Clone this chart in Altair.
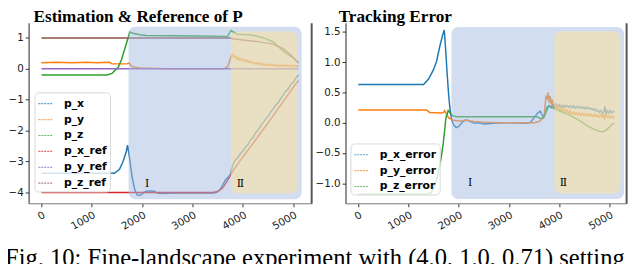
import altair as alt
import pandas as pd

# ---------------- Left panel: Estimation & Reference of P ----------------
px_t = [0, 1450, 1550, 1620, 1680, 1710, 1750, 1800, 1850, 1900, 1950, 2000, 2050, 2100, 2200, 2250, 2300,
        2400, 2600, 3000, 3400, 3470, 3550, 3600, 3650, 3700, 3750, 3800, 3850, 3900, 3950, 4000, 4050, 4100,
        4150, 4200, 4250, 4300, 4350, 4400, 4450, 4500, 4550, 4600, 4650, 4700, 4750, 4800, 4850, 4900, 4950,
        5000, 5050, 5100]
px_v = [-3.38, -3.38, -3.25, -3.0, -2.7, -2.47, -2.9, -3.5, -3.9, -4.08, -4.1, -4.05, -3.98, -3.95, -3.95, -3.97,
        -4.02, -4.03, -4.02, -4.02, -4.02, -4.0, -3.9, -3.75, -3.6, -3.52, -3.42, -3.1, -2.95, -2.87, -2.74,
        -2.66, -2.53, -2.45, -2.3, -2.22, -2.08, -1.98, -1.85, -1.74, -1.62, -1.53, -1.4, -1.3, -1.18, -1.09,
        -0.96, -0.85, -0.72, -0.65, -0.5, -0.44, -0.3, -0.2]

py_t = [0, 300, 600, 900, 1100, 1350, 1400, 1700, 1740, 1770, 1800, 1850, 1950, 2100, 2300, 2500, 3600, 3650,
        3700, 3730, 3760, 3790, 3820, 3850, 3880, 3910, 3940, 3970, 4000, 4030, 4060, 4090, 4120, 4150, 4180,
        4210, 4240, 4270, 4300, 4330, 4360, 4390, 4420, 4450, 4480, 4510, 4540, 4570, 4600, 4630, 4660, 4690,
        4720, 4750, 4780, 4810, 4840, 4870, 4900, 4930, 4960, 4990, 5020, 5050, 5080, 5100]
py_v = [0.2, 0.21, 0.2, 0.21, 0.2, 0.21, 0.16, 0.16, 0.19, 0.12, 0.07, 0.05, 0.03, 0.02, 0.01, 0.0, 0.0, 0.02,
        0.08, 0.22, 0.38, 0.47, 0.36, 0.42, 0.31, 0.37, 0.28, 0.34, 0.26, 0.31, 0.22, 0.27, 0.2, 0.25, 0.18,
        0.22, 0.16, 0.2, 0.14, 0.19, 0.13, 0.17, 0.12, 0.16, 0.11, 0.15, 0.1, 0.14, 0.1, 0.13, 0.09, 0.13,
        0.08, 0.12, 0.09, 0.12, 0.08, 0.11, 0.09, 0.12, 0.08, 0.11, 0.08, 0.11, 0.08, 0.09]

pz_t = [0, 1300, 1400, 1460, 1525, 1590, 1655, 1720, 1753, 1818, 1948, 2078, 2600, 3117, 3636, 3690, 3760,
        3890, 4156, 4416, 4610, 4805, 5000, 5097]
pz_v = [-0.2, -0.2, -0.15, -0.05, 0.05, 0.3, 0.65, 1.0, 1.19, 1.15, 1.1, 1.08, 1.07, 1.06, 1.05, 1.03, 1.24,
        1.12, 1.1, 1.0, 0.86, 0.56, 0.35, 0.2]

pxr_t = [0, 3400, 3500, 3600, 3700, 3800, 4000, 4500, 5000, 5100]
pxr_v = [-4.0, -4.0, -3.97, -3.85, -3.6, -3.3, -2.85, -1.75, -0.6, -0.38]

pyr_t = [0, 5100]
pyr_v = [0.0, 0.0]

pzr_t = [0, 3750, 3800, 4000, 4300, 4600, 4800, 4950, 5100]
pzr_v = [1.0, 1.0, 0.97, 0.93, 0.88, 0.8, 0.65, 0.45, 0.2]

left_series = ["p_x", "p_y", "p_z", "p_x_ref", "p_y_ref", "p_z_ref"]
left_colors = ["#1f77b4", "#ff7f0e", "#2ca02c", "#d62728", "#9467bd", "#8c564b"]

# shaded regions (data coords): x start, x end, y top, y bottom
left_blue = [1730, 5165, 1.36, -4.22]
left_tan = [3760, 5090, 1.21, -4.03]
left_marks_t = [2100, 3950]
left_marks_v = [-3.72, -3.72]

# ---------------- Right panel: Tracking Error ----------------
ex_t = [0, 1300, 1400, 1500, 1560, 1620, 1680, 1712, 1740, 1770, 1800, 1830, 1860, 1900, 1950, 2000, 2060,
        2120, 2180, 2250, 2320, 2400, 2500, 2700, 3000, 3300, 3420, 3500, 3560, 3620, 3660, 3690, 3720, 3760,
        3800, 3841, 3870, 3900, 3930, 3960, 3990, 4020, 4050, 4080, 4110, 4140, 4170, 4200, 4230, 4260, 4290,
        4320, 4350, 4380, 4410, 4440, 4470, 4500, 4530, 4560, 4590, 4620, 4650, 4680, 4710, 4740, 4770, 4800,
        4830, 4860, 4890, 4910, 4930, 4950, 4980, 5010, 5040, 5070, 5100]
ex_v = [0.63, 0.63, 0.72, 0.88, 1.02, 1.25, 1.45, 1.53, 1.2, 0.8, 0.45, 0.2, 0.05, -0.04, -0.08, -0.06, 0.0,
        0.04, 0.04, 0.01, -0.01, 0.0, -0.02, -0.01, 0.0, -0.01, 0.0, 0.08, 0.15, 0.19, 0.13, 0.09, 0.15, 0.26,
        0.28, 0.25, 0.3, 0.26, 0.31, 0.27, 0.3, 0.26, 0.29, 0.25, 0.29, 0.26, 0.28, 0.25, 0.28, 0.25, 0.28,
        0.24, 0.27, 0.24, 0.27, 0.24, 0.26, 0.23, 0.26, 0.23, 0.25, 0.22, 0.24, 0.21, 0.23, 0.19, 0.21, 0.17,
        0.2, 0.15, 0.19, 0.27, 0.12, 0.2, 0.16, 0.2, 0.16, 0.19, 0.17]

ey_t = [0, 1360, 1420, 1660, 1700, 1720, 1750, 1800, 1900, 2000, 2150, 2300, 2500, 2800, 3500, 3600, 3680,
        3700, 3720, 3740, 3760, 3780, 3800, 3820, 3840, 3860, 3890, 3920, 3950, 3980, 4010, 4040, 4070, 4100,
        4130, 4160, 4190, 4220, 4250, 4280, 4310, 4340, 4370, 4400, 4430, 4460, 4490, 4520, 4550, 4580, 4610,
        4640, 4670, 4700, 4730, 4760, 4790, 4820, 4850, 4880, 4900, 4920, 4950, 4980, 5010, 5040, 5070, 5100]
ey_v = [0.21, 0.21, 0.17, 0.16, 0.17, 0.2, 0.15, 0.08, 0.04, 0.03, 0.04, 0.02, 0.01, 0.0, 0.0, 0.02, 0.08,
        0.1, 0.3, 0.45, 0.38, 0.5, 0.33, 0.44, 0.3, 0.38, 0.25, 0.3, 0.22, 0.27, 0.2, 0.25, 0.18, 0.23,
        0.17, 0.21, 0.15, 0.2, 0.14, 0.18, 0.13, 0.17, 0.13, 0.16, 0.12, 0.16, 0.12, 0.15, 0.11, 0.15, 0.11,
        0.14, 0.1, 0.14, 0.1, 0.13, 0.09, 0.13, 0.09, 0.14, 0.05, 0.13, 0.09, 0.12, 0.08, 0.11, 0.08, 0.1]

ez_t = [0, 1380, 1450, 1500, 1550, 1600, 1650, 1690, 1720, 1745, 1790, 1830, 1870, 1950, 2200, 2600, 3000,
        3400, 3560, 3620, 3680, 3740, 3795, 3850, 3900, 4000, 4100, 4200, 4300, 4400, 4500, 4600, 4700, 4800,
        4850, 4900, 4950, 5000, 5050, 5100]
ez_v = [-1.18, -1.18, -1.15, -1.08, -0.97, -0.8, -0.58, -0.35, -0.12, 0.08, 0.2, 0.16, 0.12, 0.1, 0.1, 0.1,
        0.1, 0.1, 0.1, 0.07, 0.08, 0.18, 0.28, 0.25, 0.24, 0.2, 0.16, 0.13, 0.08, 0.04, -0.02, -0.07, -0.11,
        -0.14, -0.15, -0.14, -0.11, -0.07, -0.03, 0.0]

right_series = ["p_x_error", "p_y_error", "p_z_error"]
right_colors = ["#1f77b4", "#ff7f0e", "#2ca02c"]

right_blue = [1855, 5290, 1.58, -1.26]
right_tan = [3906, 5215, 1.51, -1.17]
right_marks_t = [2227, 4082]
right_marks_v = [-1.0, -1.0]

CAPTION = "Fig. 10:  Fine-landscape experiment with (4.0, 1.0, 0.71) setting"


def frame(names, ts_list, vs_list):
    parts = []
    for i, (n, ts, vs) in enumerate(zip(names, ts_list, vs_list)):
        parts.append(pd.DataFrame({"t": ts, "v": vs, "series": n, "k": i}))
    return pd.concat(parts, ignore_index=True)


def panel(df, names, colors, blue, tan, mt, mv, xdom, ydom, yvals, yfmt, w, h, title, tdx, lx, ly):
    xs = alt.Scale(domain=xdom, nice=False, zero=False)
    ys = alt.Scale(domain=ydom, nice=False, zero=False)
    xaxis = alt.Axis(values=[0, 1000, 2000, 3000, 4000, 5000], format="d", labelAngle=-30,
                     labelAlign="right", labelBaseline="top", title=None, grid=False, domainColor="#777",
                     tickColor="#333", tickSize=3.5, labelFont="DejaVu Sans", labelFontSize=10.5,
                     labelColor="#222", labelPadding=3, labelOverlap=False)
    yaxis = alt.Axis(values=yvals, format=yfmt, title=None, grid=False, domainColor="#222", tickColor="#333",
                     tickSize=3.5, labelFont="DejaVu Sans", labelFontSize=10.5, labelColor="#222",
                     labelPadding=2)
    X = alt.X("t:Q", scale=xs, axis=xaxis)
    lines = alt.Chart(df).mark_line(strokeWidth=1.5).encode(
        x=X,
        y=alt.Y("v:Q", scale=ys, axis=yaxis),
        color=alt.Color("series:N", scale=alt.Scale(domain=names, range=colors), sort=names,
                        legend=alt.Legend(orient="none", legendX=lx, legendY=ly, title=None,
                                          symbolType="stroke", symbolSize=225, symbolStrokeWidth=1.2,
                                          symbolOpacity=0.7, symbolDash=[2, 1],
                                          labelFont="DejaVu Sans", labelFontWeight="bold",
                                          labelFontSize=11, labelColor="black", labelOffset=10,
                                          rowPadding=2.2, padding=3,
                                          fillColor="rgba(255,255,255,0.8)", strokeColor="#d8d8d8",
                                          cornerRadius=4)),
        order="k:O",
        detail="series:N",
    )
    bdf = pd.DataFrame({"t": [blue[0]], "t2": [blue[1]], "v": [blue[2]], "v2": [blue[3]]})
    tdf = pd.DataFrame({"t": [tan[0]], "t2": [tan[1]], "v": [tan[2]], "v2": [tan[3]]})
    brect = alt.Chart(bdf).mark_rect(cornerRadius=7, color="#A5BBE1", opacity=0.5).encode(
        x=X, x2="t2:Q",
        y=alt.Y("v:Q", scale=ys, axis=None), y2="v2:Q")
    trect = alt.Chart(tdf).mark_rect(cornerRadius=7, color="#FFE398", opacity=0.5).encode(
        x=X, x2="t2:Q",
        y=alt.Y("v:Q", scale=ys, axis=None), y2="v2:Q")
    mdf = pd.DataFrame({"t": mt, "v": mv, "lab": ["Ⅰ", "Ⅱ"]})
    marks = alt.Chart(mdf).mark_text(font="DejaVu Serif", fontSize=11, color="black",
                                     baseline="middle").encode(
        x=X, y=alt.Y("v:Q", scale=ys, axis=None), text="lab:N")
    spine = alt.Chart(bdf).mark_point(opacity=0).encode(
        y=alt.Y("v:Q", scale=ys, axis=alt.Axis(orient="right", labels=False, ticks=False, title=None,
                                               grid=False, domainColor="#555", domainWidth=2)))
    return alt.layer(lines, brect, trect, marks, spine).resolve_axis(y="independent").properties(
        width=w, height=h,
        title=alt.TitleParams(title, font="Liberation Serif", fontSize=17.5, fontWeight="bold",
                              anchor="start", frame="group", dx=tdx, offset=-2.5, color="black"))


left_df = frame(left_series, [px_t, py_t, pz_t, pxr_t, pyr_t, pzr_t],
                [px_v, py_v, pz_v, pxr_v, pyr_v, pzr_v])
right_df = frame(right_series, [ex_t, ey_t, ez_t], [ex_v, ey_v, ez_v])

left = panel(left_df, left_series, left_colors, left_blue, left_tan, left_marks_t, left_marks_v,
             [-255, 5355], [-4.35, 1.49], [-4, -3, -2, -1, 0, 1], "d", 288, 184,
             "Estimation & Reference of P", 5, 6, 71)
right = panel(right_df, right_series, right_colors, right_blue, right_tan, right_marks_t, right_marks_v,
              [-254, 5332], [-1.33, 1.65], [-1.0, -0.5, 0.0, 0.5, 1.0, 1.5], ".1f", 286, 184,
              "Tracking Error", -7, 5, 123)

chart = alt.hconcat(left, right, spacing=4).resolve_scale(color="independent").properties(
    padding={"left": -3, "top": -2.5, "right": 0, "bottom": 0},
    title=alt.TitleParams(CAPTION, orient="bottom", anchor="start", font="Liberation Serif", fontSize=25,
                          fontWeight="normal", frame="bounds", offset=15, dx=-3, color="black"),
).configure_view(stroke=None)

chart.save("out.html", embed_options={"renderer": "svg", "actions": False})
